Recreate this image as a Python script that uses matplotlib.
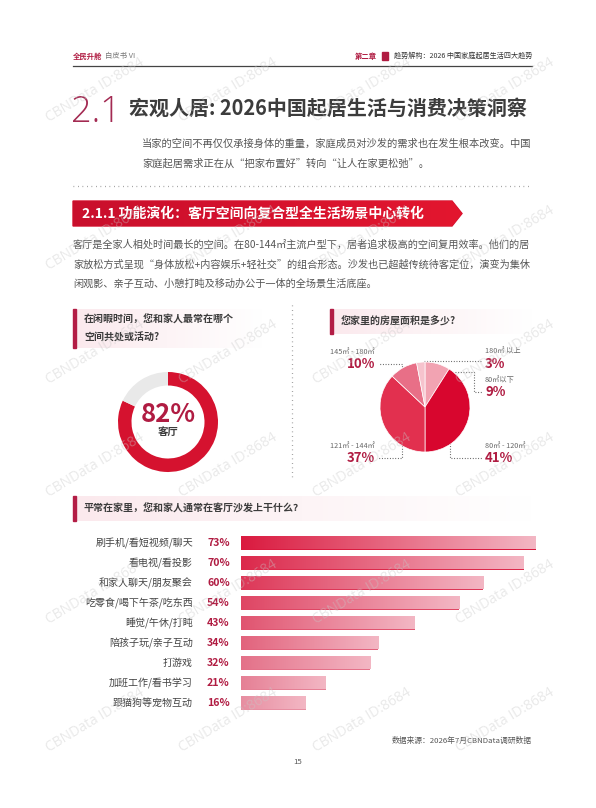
import numpy as np
import matplotlib
matplotlib.use("Agg")
import matplotlib.pyplot as plt
from matplotlib.patches import Polygon, Rectangle
from matplotlib.colors import to_rgb
from matplotlib.transforms import blended_transform_factory

plt.rcParams['font.family'] = ['Noto Sans CJK SC', 'DejaVu Sans']

# ---- data ----
living_share = [82, 18]
living_label = "客厅"

area_labels = ["80㎡以下", "80㎡ - 120㎡", "121㎡ - 144㎡", "145㎡ - 180㎡", "180㎡ 以上"]
area_values = [9, 41, 37, 10, 3]

activities = ["刷手机/看短视频/聊天", "看电视/看投影", "和家人聊天/朋友聚会",
              "吃零食/喝下午茶/吃东西", "睡觉/午休/打盹", "陪孩子玩/亲子互动",
              "打游戏", "加班工作/看书学习", "跟猫狗等宠物互动"]
activity_pct = [73, 70, 60, 54, 43, 34, 32, 21, 16]

body_lines = ["客厅是全家人相处时间最长的空间。在80-144㎡主流户型下，居者追求极高的空间复用效率。他们的居",
              "家放松方式呈现“身体放松+内容娱乐+轻社交”的组合形态。沙发也已超越传统待客定位，演变为集休",
              "闲观影、亲子互动、小憩打盹及移动办公于一体的全场景生活底座。"]
intro_lines = ["当家的空间不再仅仅承接身体的重量，家庭成员对沙发的需求也在发生根本改变。中国",
               "家庭起居需求正在从“把家布置好”转向“让人在家更松弛”。"]

RED = "#d5122f"
CRIMSON = "#b01c42"
DARK = "#3c3c3c"
GREY = "#555555"
W, H = 596, 808

fig = plt.figure(figsize=(W / 100, H / 100), dpi=100)
fig.patch.set_facecolor("white")
ax0 = fig.add_axes([0, 0, 1, 1])
ax0.axis("off")


def px_axes(x0, y0, x1, y1):
    a = fig.add_axes([x0 / W, 1 - y1 / H, (x1 - x0) / W, (y1 - y0) / H])
    a.axis("off")
    return a


def hgrad(c0, c1, n=256):
    g = np.linspace(0, 1, n)[:, None]
    return (np.array(to_rgb(c0)) * (1 - g) + np.array(to_rgb(c1)) * g)[None, :, :]


def question_box(x0, y0, x1, y1, lines):
    ax0.imshow(hgrad("#fbe9ed", "#ffffff"), extent=(x0, x1, y1, y0), aspect="auto", zorder=1)
    ax0.add_patch(Rectangle((x0, y0), 3, y1 - y0, color="#b31d45", zorder=2))
    step = (y1 - y0) / (len(lines) + 0.2)
    for k, t in enumerate(lines):
        ax0.text(x0 + 11, y0 + step * (k + 0.6), t, fontsize=7.2, fontweight="bold",
                 color=DARK, va="center", zorder=3)


# ---- header ----
ax0.text(73, 56, "全民升舱", fontsize=5.3, fontweight="bold", color=CRIMSON, va="center")
ax0.text(105, 56, "白皮书 VI", fontsize=5.3, color="#777777", va="center")
ax0.text(355, 56, "第二章", fontsize=5.3, fontweight="bold", color=CRIMSON, va="center")
ax0.add_patch(Rectangle((382, 52), 6, 8, color=CRIMSON))
ax0.text(394, 56, "趋势解构：2026 中国家庭起居生活四大趋势", fontsize=5.1, color="#333333", va="center")
ax0.plot([73, 532], [66, 66], color="#444444", lw=0.9)

# ---- title ----
ax0.text(71, 112, "2.1", fontsize=26, fontweight=300, color="#a32a52", va="center",
         family=["Open Sans", "DejaVu Sans"])
ax0.text(129, 108, "宏观人居: 2026中国起居生活与消费决策洞察", fontsize=14.4,
         fontweight="bold", color=DARK, va="center")
for k, t in enumerate(intro_lines):
    ax0.text(142, 144 + 19.5 * k, t, fontsize=7.4, color=GREY, va="center")
ax0.plot([73, 532], [186, 186], color="#888888", lw=0.9, linestyle=(0, (0.6, 3)))

# ---- banner ----
banner = Polygon([(73, 201), (452, 201), (462, 213.5), (452, 226), (73, 226)],
                 closed=True, color=RED, zorder=2)
ax0.add_patch(banner)
im = ax0.imshow(hgrad("#c90f2c", "#e3162f"), extent=(73, 462, 226, 201), aspect="auto", zorder=2)
im.set_clip_path(banner)
ax0.text(82, 213.5, "2.1.1 功能演化：客厅空间向复合型全生活场景中心转化", fontsize=10,
         fontweight="bold", color="white", va="center", zorder=3)

for k, t in enumerate(body_lines):
    ax0.text(73, 245 + 19.5 * k, t, fontsize=7.3, color=GREY, va="center")

# ---- question boxes ----
question_box(73, 309, 262, 348, ["在闲暇时间，您和家人最常在哪个", "空间共处或活动?"])
question_box(330, 309, 532, 334, ["您家里的房屋面积是多少?"])
question_box(73, 496, 532, 521, ["平常在家里，您和家人通常在客厅沙发上干什么？"])
ax0.plot([292, 292], [305, 478], color="#888888", lw=0.9, linestyle=(0, (0.6, 3)))

# ---- donut ----
axd = px_axes(118, 372, 218, 472)
axd.pie(living_share, colors=[RED, "#e9e9e9"], startangle=90, counterclock=False,
        wedgeprops=dict(width=0.27, edgecolor="none"))
axd.set_xlim(-1, 1)
axd.set_ylim(-1, 1)
ax0.text(168, 414, f"{living_share[0]}%", fontsize=18.5, fontweight="bold", color=CRIMSON,
         ha="center", va="center")
ax0.text(168, 432, living_label, fontsize=7.5, fontweight="bold", color=DARK, ha="center", va="center")

# ---- pie ----
axp = px_axes(380, 362, 470, 452)
pie_colors = ["#f2a3b2", "#d8062e", "#e2304f", "#e86f87", "#f6c3cd"]
axp.pie(area_values, colors=pie_colors, startangle=90, counterclock=False,
        wedgeprops=dict(edgecolor="white", linewidth=0.5))
axp.set_xlim(-1, 1)
axp.set_ylim(-1, 1)

# label layout: (text x, name y, pct y, align, leader path)
lab_layout = [
    (485, 380, 392, "left", [(447, 372), (474, 372), (474, 392), (482, 392)]),
    (485, 446, 458, "left", [(450, 443), (450, 458), (482, 458)]),
    (375, 446, 458, "right", [(402, 443), (402, 458), (378, 458)]),
    (375, 352, 364, "right", [(402, 372), (402, 364), (378, 364)]),
    (485, 352, 364, "left", [(423, 368), (423, 361), (482, 361)]),
]
for lab, val, (tx, ny, py, al, path) in zip(area_labels, area_values, lab_layout):
    ax0.text(tx, ny, lab, fontsize=5.2, color="#666666", ha=al, va="center")
    ax0.text(tx, py, f"{val}%", fontsize=9.5, fontweight="bold", color=CRIMSON, ha=al, va="center")
    xs, ys = zip(*path)
    ax0.plot(xs, ys, color="#555555", lw=0.8, linestyle=(0, (0.8, 1.6)), zorder=4)

# ---- bars ----
axb = px_axes(241, 533, 536, 713)
rows = np.arange(len(activities))
bars = axb.barh(rows, activity_pct, height=0.65, color=RED)
starts = [np.array(to_rgb("#da1a3f")) * (1 - t) + np.array(to_rgb("#e78ea1")) * t
          for t in np.linspace(0, 1, len(activities))]
for b, c0 in zip(bars, starts):
    x, y, w, h = b.get_x(), b.get_y(), b.get_width(), b.get_height()
    b.set_facecolor(c0)
    axb.imshow(hgrad(c0, "#f3b7c4"), extent=(x, x + w, y + h, y), aspect="auto", zorder=3)
axb.set_xlim(0, max(activity_pct))
axb.set_ylim(len(activities) - 0.5, -0.5)
tr = blended_transform_factory(axb.transAxes, axb.transData)
for i, (lab, v) in enumerate(zip(activities, activity_pct)):
    axb.text(-48 / 295, i, lab, transform=tr, fontsize=7.2, color="#444444", ha="right", va="center")
    axb.text(-34 / 295, i, f"{v}%", transform=tr, fontsize=7.6, fontweight="bold",
             color=CRIMSON, ha="left", va="center")

# ---- footer ----
ax0.text(532, 741, "数据来源：2026年7月CBNData调研数据", fontsize=5.6, color=GREY, ha="right", va="center")
ax0.text(298, 762, "15", fontsize=5.6, color=GREY, ha="center", va="center")

ax0.set_xlim(0, W)
ax0.set_ylim(H, 0)

# ---- watermarks ----
for wy in [90, 238, 352, 465, 592, 720]:
    for wx in [95, 228, 362, 505]:
        fig.text(wx / W, 1 - wy / H, "CBNData ID:8684", fontsize=10, color="#c8c8c8", alpha=0.4,
                 rotation=31, ha="center", va="center", family=["Open Sans", "DejaVu Sans"], zorder=10)

fig.savefig("out.png", dpi=100, facecolor="white")
